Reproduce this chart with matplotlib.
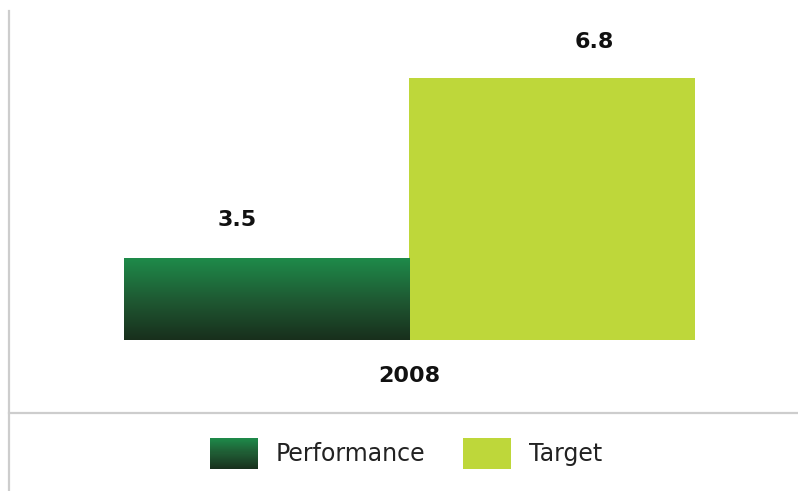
import numpy as np
import matplotlib
matplotlib.use("Agg")
import matplotlib.pyplot as plt
from matplotlib.colors import LinearSegmentedColormap
from matplotlib.patches import Rectangle
from matplotlib.lines import Line2D
from matplotlib.legend_handler import HandlerBase

# Data
categories = ["2008"]
series_names = ["Performance", "Target"]
performance = [3.5]
target = [6.8]
value_labels = ["3.5", "6.8"]

# Style
lime = "#bed73a"
green_cmap = LinearSegmentedColormap.from_list("perf", ["#182f1c", "#1f5a33", "#1e8b4a"])
line_grey = "#cdcdcd"
plt.rcParams["font.family"] = ["DejaVu Sans"]

W, H = 798, 491
fig = plt.figure(figsize=(W / 100, H / 100), dpi=100)
fig.patch.set_facecolor("white")

ax = fig.add_axes([9 / W, (H - 340) / H, (W - 9) / W, 327 / H])
ax.set_facecolor("none")
for s in ax.spines.values():
    s.set_visible(False)

x = np.arange(len(categories))
bw = 0.5
bars_p = ax.bar(x - bw / 2, performance, bw, color="#1e6b3a", zorder=2)
bars_t = ax.bar(x + bw / 2, target, bw, color=lime, zorder=2)

ax.set_ylim(2, 8)
ax.set_xlim(-0.7005, 0.681)
ax.set_yticks([])
ax.set_xticks(x)
ax.set_xticklabels(categories, fontsize=16, fontweight="bold", color="#111111")
ax.tick_params(axis="x", length=0, pad=19)

# vertical gradient on the performance bars
grad = np.linspace(0, 1, 256).reshape(-1, 1)
for b in bars_p:
    x0, w = b.get_x(), b.get_width()
    y0, y1 = ax.get_ylim()[0], b.get_height()
    im = ax.imshow(grad, cmap=green_cmap, origin="lower", aspect="auto",
                   extent=(x0, x0 + w, y0, y1), zorder=3, interpolation="bicubic")
    im.set_clip_path(b)
ax.set_xlim(-0.7005, 0.681)
ax.set_ylim(2, 8)

# value labels
offsets = [(-29, 38), (42, 36)]
for b, lab, off in zip([bars_p[0], bars_t[0]], value_labels, offsets):
    ax.annotate(lab, xy=(b.get_x() + b.get_width() / 2, b.get_height()),
                xytext=off, textcoords="offset pixels", ha="center", va="center",
                fontsize=16, fontweight="bold", color="#111111")

# frame lines
fig.add_artist(Line2D([9 / W, 9 / W], [0, 1 - 11 / H], transform=fig.transFigure,
                      color=line_grey, lw=1.6))
fig.add_artist(Line2D([9 / W, 1], [1 - 413 / H, 1 - 413 / H], transform=fig.transFigure,
                      color=line_grey, lw=1.6))


class GradientHandler(HandlerBase):
    def create_artists(self, legend, orig_handle, xdescent, ydescent, width, height,
                       fontsize, trans):
        n = 30
        arts = []
        for i in range(n):
            c = green_cmap((i + 0.5) / n)
            r = Rectangle((-xdescent, -ydescent + height * i / n), width, height / n + 0.3,
                          facecolor=c, edgecolor="none", transform=trans)
            arts.append(r)
        return arts


h_perf = Rectangle((0, 0), 1, 1, facecolor="#1e6b3a")
h_targ = Rectangle((0, 0), 1, 1, facecolor=lime, edgecolor="none")
fig.legend([h_perf, h_targ], series_names, loc="center", bbox_to_anchor=(406 / W, 1 - 453.5 / H),
           ncol=2, frameon=False, fontsize=17, handlelength=2.05, handleheight=1.65,
           handletextpad=0.75, columnspacing=1.6, labelcolor="#222222",
           handler_map={h_perf: GradientHandler()})

fig.savefig("out.png", dpi=100, facecolor="white")
